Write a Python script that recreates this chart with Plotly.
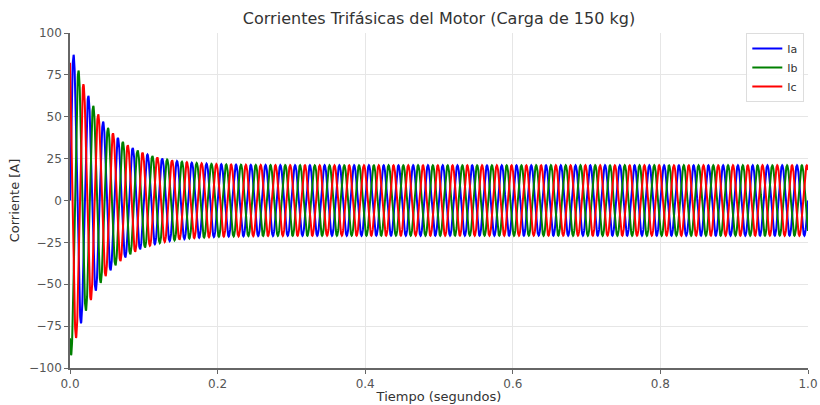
import numpy as np
import plotly.graph_objects as go

# Motor start-up parameters (three-phase stator currents, 150 kg load)
freq_hz = 50.0            # supply frequency
steady_amp = 21.0         # steady-state peak current [A]
inrush_amp = 74.0         # extra peak current at start [A]
decay_tau = 0.043         # start-up transient time constant [s]
t_end = 1.0
n_samples = 8000

phase_names = ["Ia", "Ib", "Ic"]
phase_shifts_deg = [0.0, -120.0, 120.0]
phase_colors = ["#0000ff", "#008000", "#ff0000"]

t = np.linspace(0.0, t_end, n_samples)
envelope = steady_amp + inrush_amp * np.exp(-t / decay_tau)
omega = 2 * np.pi * freq_hz

fig = go.Figure()
for name, shift, color in zip(phase_names, phase_shifts_deg, phase_colors):
    current = envelope * np.sin(omega * t + np.deg2rad(shift))
    fig.add_trace(go.Scatter(
        x=t, y=current, mode="lines", name=name,
        line=dict(color=color, width=2),
    ))

font_family = "DejaVu Sans, Liberation Sans, sans-serif"
fig.update_layout(
    width=820, height=405,
    margin=dict(l=70, r=12, t=33, b=37, autoexpand=False),
    paper_bgcolor="white", plot_bgcolor="white",
    font=dict(family=font_family, size=12, color="#444"),
    title=dict(
        text="Corrientes Trifásicas del Motor (Carga de 150 kg)",
        x=(70 + 808) / 2 / 820, xanchor="center",
        y=1 - 18 / 405, yanchor="middle",
        font=dict(size=16, color="#333"),
    ),
    showlegend=True,
    legend=dict(
        x=0.995, y=1.0, xanchor="right", yanchor="top",
        bgcolor="rgba(255,255,255,0.85)",
        bordercolor="#dddddd", borderwidth=1,
        font=dict(size=11, color="#333"),
        itemwidth=30, tracegroupgap=0,
    ),
)

fig.update_xaxes(
    range=[0, 1.0], tickvals=[0, 0.2, 0.4, 0.6, 0.8, 1.0], tickformat=".1f",
    showgrid=True, gridcolor="#e6e6e6", gridwidth=1, automargin=False,
    zeroline=False, showline=True, linecolor="#666", linewidth=1.5,
    ticks="outside", ticklen=4, tickcolor="#666",
    title=dict(text="Tiempo (segundos)", standoff=2, font=dict(size=13, color="#333")),
    tickfont=dict(size=12, color="#555"),
)
fig.update_yaxes(
    range=[-100, 100], tickvals=[-100, -75, -50, -25, 0, 25, 50, 75, 100],
    showgrid=True, gridcolor="#e6e6e6", gridwidth=1, automargin=False,
    zeroline=False, showline=True, linecolor="#666", linewidth=1.5,
    ticks="outside", ticklen=4, tickcolor="#666",
    title=dict(text="Corriente [A]", standoff=6, font=dict(size=13, color="#333")),
    tickfont=dict(size=12, color="#555"),
)

fig.write_html("out.html")
